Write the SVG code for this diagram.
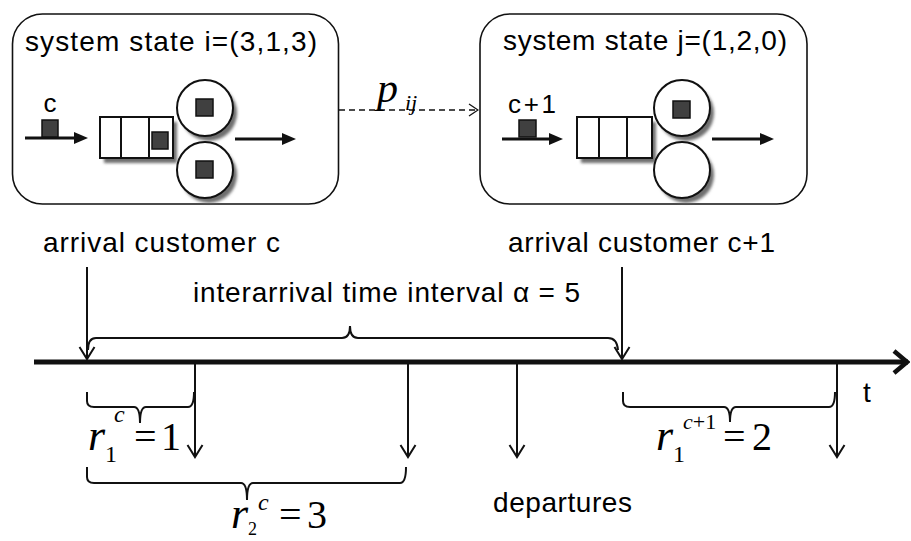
<svg xmlns="http://www.w3.org/2000/svg" width="911" height="541" viewBox="0 0 911 541">
  <style>
    .lbl { font-family: "Liberation Sans", Arial, sans-serif; font-size: 28px; fill: #000; }
    .small { font-size: 26px; }
    .m { font-family: "Liberation Serif", "Times New Roman", serif; fill: #000; }
    .it { font-style: italic; }
    .box { fill: #fff; stroke: #111; stroke-width: 1.6; }
    .q { fill: #fff; stroke: #111; stroke-width: 2; }
    .shadow { fill: #6e6e6e; filter: url(#soft); }
    .job { fill: #404040; stroke: #111; stroke-width: 1.5; }
    .flow { stroke: #111; stroke-width: 3; fill: none; marker-end: url(#solidHead); }
    .tick { stroke: #111; stroke-width: 2; fill: none; marker-end: url(#chev); }
    .brace { stroke: #111; stroke-width: 2; fill: none; }
  </style>
  <defs>
    <filter id="soft" x="-20%" y="-20%" width="140%" height="140%">
      <feGaussianBlur stdDeviation="1.6"/>
    </filter>
    <marker id="solidHead" markerUnits="userSpaceOnUse" viewBox="0 0 14 12" refX="5" refY="6" markerWidth="14" markerHeight="12" orient="auto">
      <path d="M0,0 L14,6 L0,12 z" fill="#111"/>
    </marker>
    <marker id="chev" markerUnits="userSpaceOnUse" viewBox="-15 -10 17 20" refX="0" refY="0" markerWidth="17" markerHeight="20" orient="auto">
      <path d="M-12,-7.5 L0,0 L-12,7.5" fill="none" stroke="#111" stroke-width="2"/>
    </marker>
    <marker id="bigChev" markerUnits="userSpaceOnUse" viewBox="-18 -14 20 28" refX="0" refY="0" markerWidth="20" markerHeight="28" orient="auto">
      <path d="M-14,-11 L-1,0 L-14,11" fill="none" stroke="#111" stroke-width="4.5"/>
    </marker>
    <marker id="thinChev" markerUnits="userSpaceOnUse" viewBox="-12 -8 13 16" refX="0" refY="0" markerWidth="13" markerHeight="16" orient="auto">
      <path d="M-9,-6 L0,0 L-9,6" fill="none" stroke="#111" stroke-width="1.3"/>
    </marker>
  </defs>

  <rect width="911" height="541" fill="#fff"/>

  <!-- state i -->
  <g id="state-i">
    <rect class="box" x="12.5" y="14" width="326" height="190" rx="30" ry="30"/>
    <text class="lbl" x="25" y="51" textLength="292" lengthAdjust="spacing">system state i=(3,1,3)</text>
    <text class="lbl small" x="50" y="112" text-anchor="middle">c</text>
    <line class="flow" x1="25" y1="138" x2="79" y2="138"/>
    <rect class="job" x="42" y="120" width="16" height="17"/>
    <!-- queue -->
    <rect class="shadow" x="104" y="122" width="73" height="41"/>
    <rect class="q" x="100" y="117" width="73" height="41"/>
    <line class="q" x1="121" y1="117" x2="121" y2="158"/>
    <line class="q" x1="149" y1="117" x2="149" y2="158"/>
    <rect class="job" x="152" y="132" width="16" height="17"/>
    <!-- servers -->
    <circle class="shadow" cx="209" cy="113" r="28"/>
    <circle class="shadow" cx="209" cy="175" r="28"/>
    <circle class="q" cx="205" cy="108" r="28"/>
    <circle class="q" cx="205" cy="170" r="28"/>
    <rect class="job" x="196" y="99" width="17" height="17"/>
    <rect class="job" x="196" y="161" width="17" height="17"/>
    <line class="flow" x1="235" y1="139" x2="287" y2="139"/>
  </g>

  <!-- state j -->
  <g id="state-j">
    <rect class="box" x="480" y="14" width="327" height="190" rx="30" ry="30"/>
    <text class="lbl" x="503" y="50" textLength="284" lengthAdjust="spacing">system state j=(1,2,0)</text>
    <text class="lbl small" x="508" y="113" textLength="48" lengthAdjust="spacing">c+1</text>
    <line class="flow" x1="502" y1="139" x2="554" y2="139"/>
    <rect class="job" x="519" y="120" width="17" height="17"/>
    <!-- queue -->
    <rect class="shadow" x="581" y="122" width="75" height="41"/>
    <rect class="q" x="577" y="117" width="75" height="41"/>
    <line class="q" x1="599" y1="117" x2="599" y2="158"/>
    <line class="q" x1="627" y1="117" x2="627" y2="158"/>
    <!-- servers -->
    <circle class="shadow" cx="686" cy="113" r="28"/>
    <circle class="shadow" cx="686" cy="175" r="28"/>
    <circle class="q" cx="682" cy="108" r="28"/>
    <circle class="q" cx="682" cy="170" r="28"/>
    <rect class="job" x="673" y="101" width="17" height="17"/>
    <line class="flow" x1="712" y1="139" x2="765" y2="139"/>
  </g>

  <!-- transition -->
  <g id="connectors">
    <line x1="339" y1="110" x2="478" y2="110" stroke="#111" stroke-width="1.3" stroke-dasharray="6 4" marker-end="url(#thinChev)"/>
  </g>
  <g id="p-ij">
    <text class="m it" x="377" y="102" font-size="42">p</text>
    <text class="m it" x="405" y="110" font-size="22">ij</text>
  </g>

  <!-- time axis -->
  <g id="timeline">
    <line x1="34" y1="362" x2="908" y2="362" stroke="#111" stroke-width="5" marker-end="url(#bigChev)"/>
    <text class="lbl" x="863" y="402">t</text>
  </g>

  <!-- arrivals -->
  <g id="arrivals">
    <text class="lbl" x="43" y="252" textLength="237" lengthAdjust="spacing">arrival customer c</text>
    <text class="lbl" x="508" y="252" textLength="267" lengthAdjust="spacing">arrival customer c+1</text>
    <line class="tick" x1="87" y1="267" x2="87" y2="359"/>
    <line class="tick" x1="622" y1="267" x2="622" y2="359"/>
  </g>

  <!-- interarrival interval -->
  <g id="interarrival">
    <path class="brace" d="M88,350 Q88,338 96,338 L342,338 Q350,338 350,326 Q350,338 358,338 L608,338 Q617,338 618,350"/>
    <text class="lbl" x="193" y="302" textLength="387" lengthAdjust="spacing">interarrival time interval α = 5</text>
  </g>

  <!-- departures -->
  <g id="departures">
    <line class="tick" x1="195" y1="364" x2="195" y2="457"/>
    <line class="tick" x1="408" y1="364" x2="408" y2="457"/>
    <line class="tick" x1="517" y1="364" x2="517" y2="457"/>
    <line class="tick" x1="837" y1="364" x2="837" y2="457"/>
    <text class="lbl" x="493" y="512" textLength="139" lengthAdjust="spacing">departures</text>
  </g>

  <!-- residual service times -->
  <g id="r1-c">
    <path class="brace" d="M87,392 L87,401 Q87,407 94,407 L134,407 Q140,407 140,423 Q140,407 146,407 L188,407 Q194,407 194,392"/>
    <text class="m it" x="88" y="450" font-size="44">r</text>
    <text class="m" x="105" y="462" font-size="24">1</text>
    <text class="m it" x="114" y="422" font-size="24">c</text>
    <text class="m" x="134" y="450" font-size="40">=</text>
    <text class="m" x="161" y="450" font-size="40">1</text>
  </g>
  <g id="r2-c">
    <path class="brace" d="M87,467 L87,477 Q87,483 94,483 L241,483 Q247,483 247,500 Q247,483 253,483 L400,483 Q406,483 406,467"/>
    <text class="m it" x="231" y="528" font-size="44">r</text>
    <text class="m" x="248" y="535" font-size="18">2</text>
    <text class="m it" x="258" y="510" font-size="24">c</text>
    <text class="m" x="279" y="528" font-size="40">=</text>
    <text class="m" x="307" y="528" font-size="40">3</text>
  </g>
  <g id="r1-c1">
    <path class="brace" d="M623,392 L623,401 Q623,407 630,407 L724,407 Q730,407 730,422 Q730,407 736,407 L829,407 Q835,407 835,392"/>
    <text class="m it" x="656" y="450" font-size="44">r</text>
    <text class="m" x="673" y="462" font-size="24">1</text>
    <text class="m it" x="683" y="429" font-size="22">c<tspan font-style="normal">+1</tspan></text>
    <text class="m" x="723" y="450" font-size="40">=</text>
    <text class="m" x="752" y="450" font-size="40">2</text>
  </g>
</svg>
